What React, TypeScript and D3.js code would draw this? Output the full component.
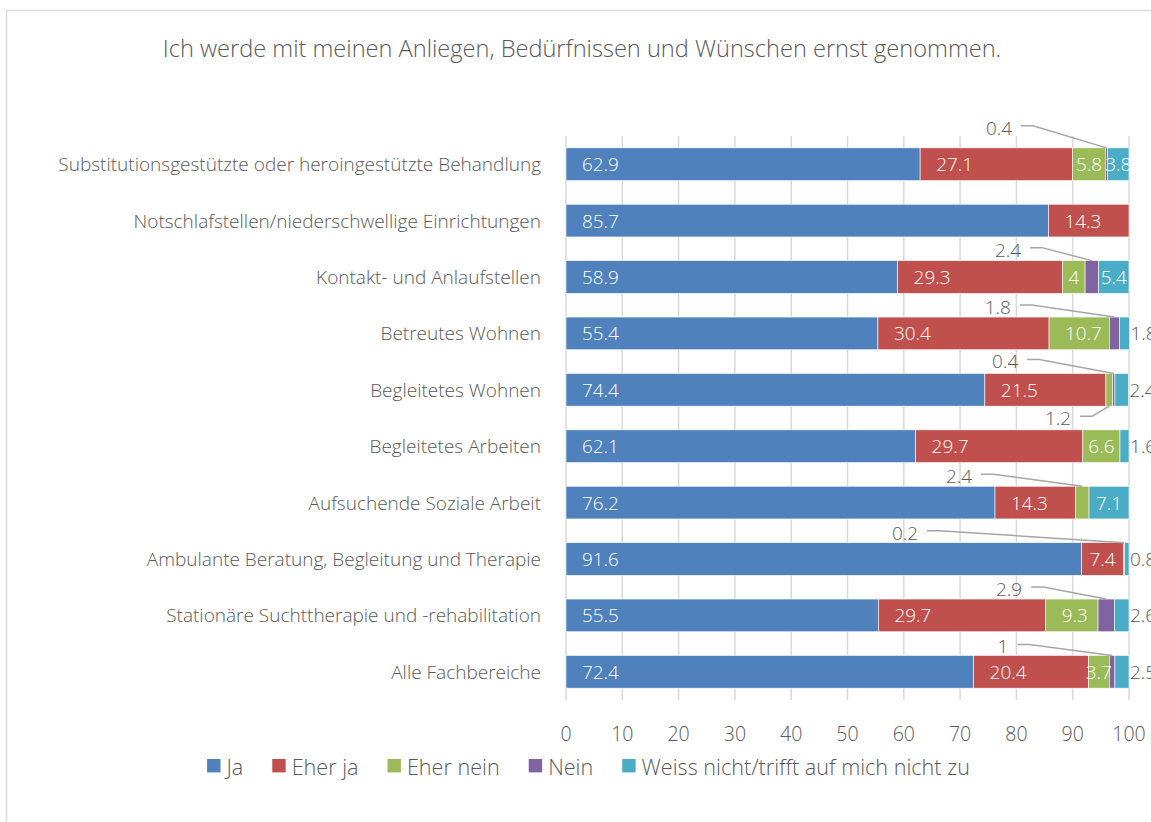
import React, { useRef, useEffect } from 'react';
import * as d3 from 'd3';

const categories = [
  'Substitutionsgestützte oder heroingestützte Behandlung',
  'Notschlafstellen/niederschwellige Einrichtungen',
  'Kontakt- und Anlaufstellen',
  'Betreutes Wohnen',
  'Begleitetes Wohnen',
  'Begleitetes Arbeiten',
  'Aufsuchende Soziale Arbeit',
  'Ambulante Beratung, Begleitung und Therapie',
  'Stationäre Suchttherapie und -rehabilitation',
  'Alle Fachbereiche',
];

const seriesNames = ['Ja', 'Eher ja', 'Eher nein', 'Nein', 'Weiss nicht/trifft auf mich nicht zu'];

const ja = [62.9, 85.7, 58.9, 55.4, 74.4, 62.1, 76.2, 91.6, 55.5, 72.4];
const eherJa = [27.1, 14.3, 29.3, 30.4, 21.5, 29.7, 14.3, 7.4, 29.7, 20.4];
const eherNein = [5.8, 0, 4, 10.7, 1.2, 6.6, 2.4, 0, 9.3, 3.7];
const nein = [0.4, 0, 2.4, 1.8, 0.4, 0, 0, 0.2, 2.9, 1];
const weissNicht = [3.8, 0, 5.4, 1.8, 2.4, 1.6, 7.1, 0.8, 2.6, 2.5];

const tickValues = [0, 10, 20, 30, 40, 50, 60, 70, 80, 90, 100];

const colors = ['#4F81BD', '#C0504D', '#9BBB59', '#8064A2', '#4BACC6'];

// labels moved off the bar with a leader line: row, series, label centre (axis units), side, gap to bar
const callouts = [
  { row: 0, series: 3, at: 76.9, side: 'top', gap: 20 },
  { row: 2, series: 3, at: 78.5, side: 'top', gap: 11 },
  { row: 3, series: 3, at: 76.7, side: 'top', gap: 10 },
  { row: 4, series: 3, at: 78.0, side: 'top', gap: 12 },
  { row: 4, series: 2, at: 87.4, side: 'bottom', gap: 12 },
  { row: 6, series: 2, at: 69.8, side: 'top', gap: 10 },
  { row: 7, series: 3, at: 60.2, side: 'top', gap: 10 },
  { row: 8, series: 3, at: 78.7, side: 'top', gap: 10 },
  { row: 9, series: 3, at: 77.6, side: 'top', gap: 9 },
];

const W = 1151;
const H = 822;
const FONT = "'Open Sans', 'DejaVu Sans', sans-serif";
const GREY = '#595959';

const App = () => {
  const svgRef = useRef<SVGSVGElement>(null);

  useEffect(() => {
    document.body.style.margin = '0';
    const svg = d3.select(svgRef.current);
    svg.selectAll('*').remove();

    const values = [ja, eherJa, eherNein, nein, weissNicht];
    const rows = categories.map((c, i) => {
      const r: any = { category: c };
      seriesNames.forEach((s, k) => (r[s] = values[k][i]));
      return r;
    });
    const stacked = d3.stack().keys(seriesNames)(rows);

    const x = d3.scaleLinear().domain([0, 100]).range([566, 1129]);
    const y = d3.scaleBand().domain(categories).range([136, 700]).paddingInner(0.42).paddingOuter(0.21);
    const bw = y.bandwidth();

    // chart frame
    svg.append('rect')
      .attr('x', 6.5).attr('y', 10.5).attr('width', 1170).attr('height', 830)
      .attr('fill', 'none').attr('stroke', '#D9D9D9').attr('stroke-width', 1.5);

    // title
    svg.append('text')
      .attr('x', 582).attr('y', 48)
      .attr('text-anchor', 'middle').attr('dominant-baseline', 'central')
      .attr('font-family', FONT).attr('font-size', 23.6).attr('font-weight', 300)
      .attr('fill', GREY)
      .text('Ich werde mit meinen Anliegen, Bedürfnissen und Wünschen ernst genommen.');

    // gridlines
    svg.append('g').selectAll('line')
      .data(tickValues).enter().append('line')
      .attr('x1', d => x(d)).attr('x2', d => x(d))
      .attr('y1', 136).attr('y2', 700)
      .attr('stroke', '#D9D9D9').attr('stroke-width', 1.5);

    // tick labels
    svg.append('g').selectAll('text')
      .data(tickValues).enter().append('text')
      .attr('x', d => x(d)).attr('y', 733)
      .attr('text-anchor', 'middle').attr('dominant-baseline', 'central')
      .attr('font-family', FONT).attr('font-size', 19.5).attr('font-weight', 300)
      .attr('fill', GREY)
      .text(d => d);

    // category labels
    svg.append('g').selectAll('text')
      .data(categories).enter().append('text')
      .attr('x', 541).attr('y', d => (y(d) as number) + bw / 2)
      .attr('text-anchor', 'end').attr('dominant-baseline', 'central')
      .attr('font-family', FONT).attr('font-size', 19.0).attr('font-weight', 300)
      .attr('fill', GREY)
      .text(d => d);

    // bars
    const layers = svg.append('g').selectAll('g')
      .data(stacked).enter().append('g')
      .attr('fill', (d, i) => colors[i]);

    layers.selectAll('rect')
      .data(d => d.filter(s => s[1] - s[0] > 0))
      .enter().append('rect')
      .attr('x', d => x(d[0]))
      .attr('y', d => y(d.data.category as any) as number)
      .attr('width', d => x(d[1]) - x(d[0]))
      .attr('height', bw)
      .attr('stroke', '#fff').attr('stroke-width', 0.6);

    // data labels
    const lbl = svg.append('g')
      .attr('font-family', FONT).attr('font-size', 18.9).attr('font-weight', 300);

    stacked.forEach((layer, k) => {
      layer.forEach((seg, i) => {
        const v = values[k][i];
        if (!v) return;
        const x0 = x(seg[0]);
        const x1 = x(seg[1]);
        const yTop = y(categories[i]) as number;
        const cy = yTop + bw / 2;
        const co = callouts.find(c => c.row === i && c.series === k);
        if (co) {
          const t = lbl.append('text')
            .attr('x', x(co.at))
            .attr('text-anchor', 'middle').attr('dominant-baseline', 'central')
            .attr('fill', GREY).text(v);
          const tw = (t.node() as SVGTextElement).getComputedTextLength();
          const ty = co.side === 'top' ? yTop - co.gap : yTop + bw + co.gap;
          t.attr('y', ty);
          const ly = ty - 2;
          const sx = x(co.at) + tw / 2 + 9;
          const ex = (x0 + x1) / 2;
          const ey = co.side === 'top' ? yTop : yTop + bw;
          svg.append('path')
            .attr('d', d3.line()([[sx, ly], [sx + 12, ly], [ex, ey]]))
            .attr('fill', 'none').attr('stroke', '#A6A6A6').attr('stroke-width', 1.5);
          return;
        }
        if (v < 3.5) {
          // outside end of the bar
          lbl.append('text')
            .attr('x', x1 + 1).attr('y', cy)
            .attr('dominant-baseline', 'central')
            .attr('fill', GREY).text(v);
          return;
        }
        const t = lbl.append('text')
          .attr('y', cy).attr('dominant-baseline', 'central')
          .attr('fill', '#fff').text(v);
        const tw = (t.node() as SVGTextElement).getComputedTextLength();
        const w = x1 - x0;
        const tx = w - tw < 20 ? x0 + (w - tw) / 2 : Math.min(x0 + 16, x1 - tw - 2);
        t.attr('x', tx);
      });
    });

    // legend, centred under the chart
    const legend = svg.append('g')
      .attr('font-family', FONT).attr('font-size', 21.6).attr('font-weight', 300);
    let lx = 0;
    seriesNames.forEach((s, i) => {
      legend.append('rect')
        .attr('x', lx).attr('y', 759).attr('width', 13.4).attr('height', 13.4)
        .attr('fill', colors[i]);
      const t = legend.append('text')
        .attr('x', lx + 19.4).attr('y', 766)
        .attr('dominant-baseline', 'central')
        .attr('fill', GREY).text(s);
      const tw = (t.node() as SVGTextElement).getComputedTextLength();
      lx += 19.4 + tw + (i < seriesNames.length - 1 ? 29 : 0);
    });
    legend.attr('transform', `translate(${588.5 - lx / 2},0)`);
  }, []);

  return <svg ref={svgRef} width={W} height={H} style={{ display: 'block', background: '#fff' }}></svg>;
};

export default App;
